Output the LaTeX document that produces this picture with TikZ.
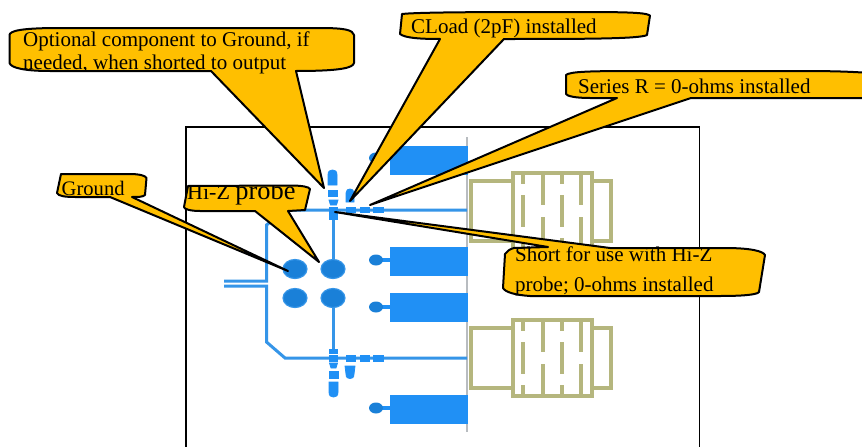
\documentclass[tikz,border=0pt]{standalone}
\usepackage{fontspec}
\setmainfont{Liberation Serif}
\definecolor{callfill}{HTML}{FFBF00}
\definecolor{padblue}{HTML}{2090F5}
\definecolor{traceblue}{HTML}{3595E8}
\definecolor{viablue}{HTML}{1A80D8}
\definecolor{olive}{HTML}{B5B67E}
\definecolor{railgray}{HTML}{B8BCC0}
\newcommand{\fs}[1]{\fontsize{#1}{#1}\selectfont}
\newcommand{\shapeOpt}{(9.5,35) .. controls (10,31) and (20,28) .. (60,28) -- (320,28) .. controls (345,28) and (353,30) .. (354,35) -- (354,63) .. controls (353,68) and (340,71) .. (296,71) -- (324,188) -- (211,71) -- (50,71) .. controls (25,71) and (11,68) .. (9.5,63) -- cycle}
\newcommand{\shapeLoad}{(402,14) .. controls (420,12) and (500,12) .. (560,12) .. controls (620,12) and (645,12) .. (650,15.5) -- (647,35) .. controls (640,39) and (580,39) .. (504,39) -- (350,201) -- (440,39) .. controls (420,39) and (405,38) .. (400,34) -- cycle}
\newcommand{\shapeSer}{(566,75) .. controls (570,71.5) and (590,71) .. (640,71) -- (800,71) .. controls (840,71) and (855,72) .. (870,73) -- (870,98) -- (691,98) -- (370,205) -- (617,98) -- (590,98) .. controls (575,98) and (567,96) .. (566,94) -- cycle}
\newcommand{\shapeGnd}{(61,174) -- (130,174) .. controls (140,174) and (146,176) .. (146.5,178) -- (145,195) .. controls (143,197) and (138,197) .. (132,197) -- (288,271) -- (110,197) -- (75,197) .. controls (65,197) and (58,196) .. (57,193) -- cycle}
\newcommand{\shapeHiz}{(188,186) -- (290,185.5) .. controls (303,185.5) and (309,187) .. (310,189) -- (305,210) -- (288,211) -- (319,262) -- (255,211) -- (200,211) .. controls (190,211) and (184,209) .. (184,207) -- cycle}
\newcommand{\shapeSho}{(505,254) .. controls (507,251) and (510,249) .. (514,248) -- (548,247) -- (335,212) -- (610,248) -- (725,248) .. controls (750,248) and (763,251) .. (765,255) -- (759,292) .. controls (757,295) and (740,296) .. (720,296) -- (530,296) .. controls (515,295) and (505,292) .. (503,288) -- cycle}
\tikzset{
  x=1pt,y=-1pt,
  frameline/.style={draw=black,line width=1.5pt},
  callfillst/.style={fill=callfill},
  callline/.style={draw=black,line width=2pt,line join=round},
  calltext/.style={anchor=base west,inner sep=0pt,text=black},
  pad/.style={fill=padblue,draw=padblue,line width=0.8pt},
  trace/.style={draw=traceblue,line width=3pt},
  via/.style={fill=viablue,draw=traceblue,line width=1.2pt},
  olivebox/.style={draw=olive,line width=3.6pt},
  coaxpic/.pic={
    \draw[olivebox] (471,8) rectangle (513,68);
    \draw[olivebox] (513,0) rectangle (592,76);
    \draw[olivebox] (592,8) rectangle (611,68);
    \draw[olivebox] (523,0) -- (523,11) (523,22) -- (523,54) (523,65) -- (523,76);
    \draw[olivebox] (543,0) -- (543,32) (543,44) -- (543,76);
    \draw[olivebox] (562,0) -- (562,11) (562,22) -- (562,54) (562,65) -- (562,76);
    \draw[olivebox] (581,0) -- (581,32) (581,44) -- (581,76);
  }
}
\begin{document}
\begin{tikzpicture}
\useasboundingbox (0,0) rectangle (862,447);
\clip (0,0) rectangle (862,447);
\fill[white] (0,0) rectangle (862,447);
% frame
\draw[frameline] (186,460) -- (186,127) -- (699.5,127) -- (699.5,460);
% coax connectors
\pic at (0,173) {coaxpic};
\pic at (0,320) {coaxpic};
% rail
\draw[draw=railgray,line width=2.4pt] (467,137) -- (467,432);
% traces
\draw[trace] (224,281) -- (266.5,281) -- (266.5,225) -- (285,210) -- (467,210);
\draw[trace] (224,286) -- (266.5,286) -- (266.5,342) -- (285,358) -- (467,358);
\draw[trace] (333,212) -- (333,269);
\draw[trace] (333,298) -- (333,352);
% pads with stubs
\foreach \py/\sy in {146/158,247/260,293/307,395/408}{
  \path[pad] (390,\py) rectangle (467,\py+28);
  \fill[padblue] (378,\sy-2) rectangle (391,\sy+2);
  \fill[viablue] (376,\sy) ellipse [x radius=7,y radius=5.5];
}
% vias
\foreach \vx/\vy in {295/269,333/269,295/298,333/298}{
  \path[via] (\vx,\vy) ellipse [x radius=12,y radius=9.5];
}
% lower components
\path[pad] (329.5,349) rectangle (337.5,353);
\path[pad] (329.5,355) rectangle (337.5,361);
\path[pad] (329.5,363) -- (337.5,363) -- (336,368) -- (331,368) -- cycle;
\path[pad] (329,371) rectangle (338,378);
\path[pad] (329,382) -- (338,382) -- (338,392) .. controls (338,396) and (336,397) .. (333.5,397) .. controls (331,397) and (329,396) .. (329,392) -- cycle;
\path[pad] (346,355) rectangle (355,361);
\path[pad] (360,355) rectangle (369,361);
\path[pad] (373,355) rectangle (383,361);
\path[pad] (345,366) -- (355,366) -- (354,374) .. controls (354,378) and (352,378.5) .. (350,378.5) .. controls (348,378.5) and (346,378) .. (346,374) -- cycle;
% upper components
\path[pad] (329.5,214) rectangle (337,219);
\path[pad] (329.5,207) rectangle (337,213);
\path[pad] (330.5,205) -- (336.5,205) -- (338,200) -- (329,200) -- cycle;
\path[pad] (328,190) rectangle (337,196);
\path[pad] (328,185) -- (337,185) -- (337,175) .. controls (337,171) and (335,170) .. (332.5,170) .. controls (330,170) and (328,171) .. (328,175) -- cycle;
\path[pad] (346,207) rectangle (355,212.5);
\path[pad] (360,207) rectangle (369,212.5);
\path[pad] (373,207) rectangle (383,212.5);
\path[pad] (346,202) -- (354,202) -- (354,193) .. controls (354,190) and (352,189) .. (350,189) .. controls (348,189) and (346,190) .. (346,193) -- cycle;
% Series R
\path[callfillst] \shapeSer;
\begin{scope}\clip \shapeSer;
\node[calltext] (serieslabel) at (578,93) {\fs{21}Series R = 0-ohms installed};
\end{scope}
\path[callline] \shapeSer;
% CLoad
\path[callfillst] \shapeLoad;
\begin{scope}\clip \shapeLoad;
\node[calltext] (cloadlabel) at (411,33) {\fs{21}CLoad (2pF) installed};
\end{scope}
\path[callline] \shapeLoad;
% Optional
\path[callfillst] \shapeOpt;
\begin{scope}\clip \shapeOpt;
\node[calltext] (optlabela) at (23,46) {\fs{21}Optional component to Ground, if};
\node[calltext] (optlabelb) at (23,69.5) {\fs{21}needed, when shorted to output};
\end{scope}
\path[callline] \shapeOpt;
% Ground
\path[callfillst] \shapeGnd;
\begin{scope}\clip \shapeGnd;
\node[calltext] (gndlabel) at (61.5,195) {\fs{20.6}Ground};
\end{scope}
\path[callline] \shapeGnd;
% Hi-Z
\path[callfillst] \shapeHiz;
\begin{scope}\clip \shapeHiz;
\node[calltext] (hizlabel) at (187,199) {\fs{22}Hi-Z \fs{26.4}probe};
\end{scope}
\path[callline] \shapeHiz;
% Short
\path[callfillst] \shapeSho;
\node[calltext] (shortlabela) at (515,261) {\fs{21}Short for use with Hi-Z};
\node[calltext] (shortlabelb) at (515,291) {\fs{21}probe; 0-ohms installed};
\path[callline] \shapeSho;
\end{tikzpicture}
\end{document}
